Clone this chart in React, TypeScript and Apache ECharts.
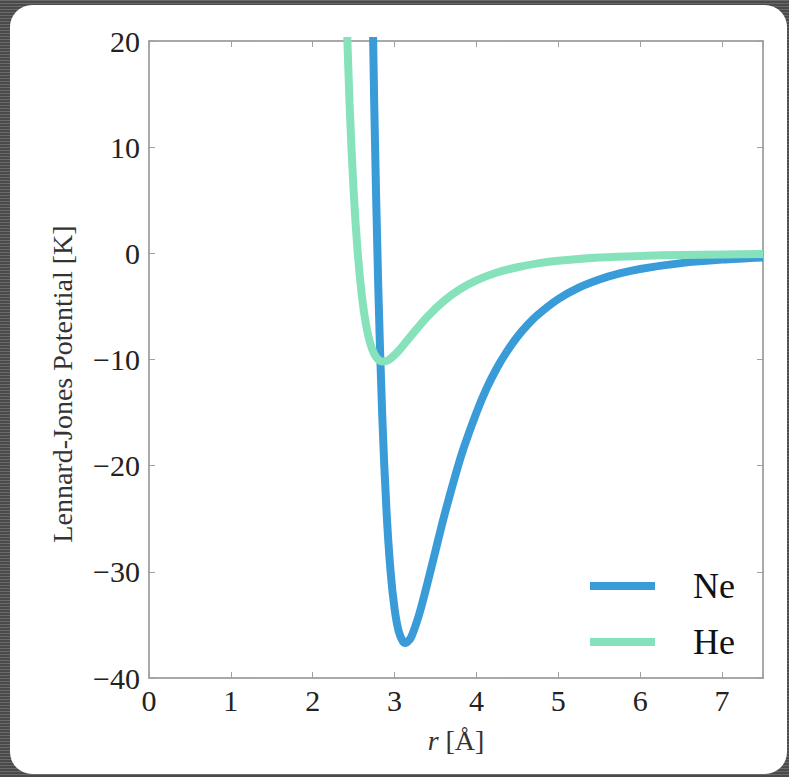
import React, { useEffect, useRef } from "react";
import * as echarts from "echarts";

// r [Å] and potential [K]
const neR = [2.70, 2.75, 2.80, 2.85, 2.90, 2.95, 3.00, 3.05, 3.10, 3.13, 3.15, 3.20, 3.30, 3.40, 3.50, 3.60, 3.75, 3.85, 4.00, 4.125, 4.25, 4.375, 4.50, 4.625, 4.75, 5.00, 5.25, 5.50, 5.75, 6.00, 6.50, 7.00, 7.50];
const neV = [38.8, 14.5, -3.05, -15.5, -24.1, -29.9, -33.5, -35.6, -36.55, -36.7, -36.65, -36.2, -34.0, -31.1, -28.0, -24.9, -20.7, -18.2, -15.0, -12.7, -10.8, -9.21, -7.86, -6.73, -5.78, -4.30, -3.23, -2.46, -1.89, -1.47, -0.92, -0.59, -0.39];
const heR = [2.40, 2.45, 2.50, 2.55, 2.60, 2.65, 2.70, 2.75, 2.80, 2.85, 2.90, 2.95, 3.05, 3.20, 3.40, 3.60, 3.80, 4.00, 4.25, 4.50, 4.75, 5.00, 5.50, 6.00, 6.50, 7.00, 7.50];
const heV = [25.75, 14.07, 5.80, 0.0, -3.99, -6.68, -8.41, -9.45, -10.0, -10.19, -10.14, -9.92, -9.18, -7.77, -5.97, -4.50, -3.38, -2.55, -1.81, -1.31, -0.95, -0.70, -0.40, -0.24, -0.15, -0.10, -0.06];
const seriesNames = ["Ne", "He"];
const colors = ["#3a9bd9", "#86e2bb"];
const yTitle = "Lennard-Jones Potential [K]";

const serif = "Times New Roman";

export default function App() {
  const ref = useRef<HTMLDivElement>(null);
  useEffect(() => {
    if (!ref.current) return;
    const chart = echarts.init(ref.current, null, { renderer: "svg" });
    const fmt = (v: number) => (v < 0 ? "\u2212" + Math.abs(v) : String(v));
    const axisLine = { show: true, onZero: false, lineStyle: { color: "#8c8c8c", width: 1.5 } };
    const tick = { show: true, inside: true, length: 6, lineStyle: { color: "#a0a0a0", width: 1 } };
    chart.setOption({
      animation: false,
      backgroundColor: "transparent",
      grid: { left: 149, top: 41, width: 614, height: 637, containLabel: false },
      legend: {
        orient: "vertical",
        left: 585,
        top: 561,
        itemWidth: 65,
        itemHeight: 8,
        itemGap: 16,
        icon: "rect",
        data: seriesNames,
        textStyle: { fontFamily: serif, fontSize: 36, color: "#111", padding: [0, 0, 0, 33], lineHeight: 40 },
      },
      graphic: [
        {
          type: "text", x: 62, y: 384, rotation: Math.PI / 2,
          style: { text: yTitle, fontFamily: serif, fontSize: 28, fill: "#333", textAlign: "center", textVerticalAlign: "middle" },
        },
      ],
      xAxis: [
        {
          type: "value", min: 0, max: 7.5, interval: 1, position: "bottom",
          axisLine, axisTick: tick, splitLine: { show: false },
          axisLabel: { showMaxLabel: false, fontFamily: serif, fontSize: 30, color: "#222", margin: 7 },
          name: "{i|r} [Å]", nameLocation: "middle", nameGap: 48,
          nameTextStyle: { fontFamily: serif, fontSize: 28, color: "#333", rich: { i: { fontFamily: serif, fontStyle: "italic", fontSize: 28, color: "#333" } } },
        },
        {
          type: "value", min: 0, max: 7.5, interval: 1, position: "top",
          axisLine, axisTick: tick, axisLabel: { show: false }, splitLine: { show: false },
        },
      ],
      yAxis: [
        {
          type: "value", min: -40, max: 20, interval: 10, position: "left",
          axisLine, axisTick: tick, splitLine: { show: false },
          axisLabel: { formatter: fmt, fontFamily: serif, fontSize: 30, color: "#222", margin: 9 },
        },
        {
          type: "value", min: -40, max: 20, interval: 10, position: "right",
          axisLine, axisTick: tick, axisLabel: { show: false }, splitLine: { show: false },
        },
      ],
      series: [
        {
          name: seriesNames[0], type: "line", data: neR.map((r, i) => [r, neV[i]]),
          smooth: 0.3, showSymbol: false, clip: true,
          lineStyle: { color: colors[0], width: 8 }, itemStyle: { color: colors[0] }, z: 2,
        },
        {
          name: seriesNames[1], type: "line", data: heR.map((r, i) => [r, heV[i]]),
          smooth: 0.3, showSymbol: false, clip: true,
          lineStyle: { color: colors[1], width: 8 }, itemStyle: { color: colors[1] }, z: 3,
        },
      ],
    });
    return () => chart.dispose();
  }, []);
  return (
    <div style={{ position: "fixed", left: 0, top: 0, width: 789, height: 777,
      background: "repeating-linear-gradient(0deg, #4a4a4a 0px, #4a4a4a 2px, #6a6a6a 2px, #6a6a6a 3px)" }}>
      <div style={{ position: "absolute", left: 10, top: 5, width: 777, height: 769, background: "#fff", borderRadius: 22 }} />
      <div ref={ref} style={{ position: "absolute", left: 0, top: 0, width: 789, height: 777 }} />
    </div>
  );
}
